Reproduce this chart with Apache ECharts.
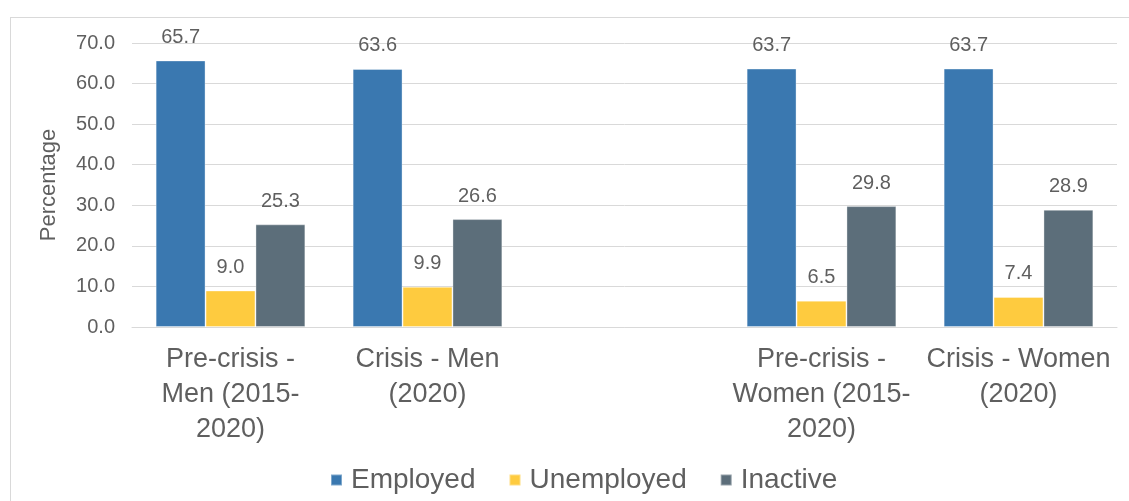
<!DOCTYPE html>
<html>
<head>
<meta charset="utf-8">
<script src="https://cdn.jsdelivr.net/npm/echarts@6/dist/echarts.min.js"></script>
<style>
  html, body { margin: 0; padding: 0; background: #ffffff; }
  #chart { width: 1129px; height: 501px; position: absolute; left: 0; top: 0; }
  #frame { position: absolute; left: 10px; top: 17px; width: 1300px; height: 700px;
           border: 1px solid #d9d9d9; box-sizing: border-box; pointer-events: none; }
</style>
</head>
<body>
<div id="frame"></div>
<div id="chart"></div>
<script>
const categories = [
  'Pre-crisis -\nMen (2015-\n2020)',
  'Crisis - Men\n(2020)',
  '',
  'Pre-crisis -\nWomen (2015-\n2020)',
  'Crisis - Women\n(2020)'
];
const seriesNames = ['Employed', 'Unemployed', 'Inactive'];
const employed   = [65.7, 63.6, null, 63.7, 63.7];
const unemployed = [9.0, 9.9, null, 6.5, 7.4];
const inactive   = [25.3, 26.6, null, 29.8, 28.9];
const yTicks = { min: 0, max: 70, interval: 10 };
const colors = ['#3a78b0', '#fecb3f', '#5c6e7a'];

const font = 'Liberation Sans, Arial, Helvetica, sans-serif';
const labelColor = '#5f5f5f';

function makeSeries(name, data, color) {
  return {
    name: name,
    type: 'bar',
    data: data,
    barGap: '0%',
    barCategoryGap: '24%',
    itemStyle: { color: color, borderColor: 'rgba(255,255,255,0.35)', borderWidth: 1 },
    label: {
      show: true,
      position: 'top',
      distance: 13,
      color: labelColor,
      fontFamily: font,
      fontSize: 20,
      formatter: p => (p.value == null ? '' : Number(p.value).toFixed(1))
    }
  };
}

const chart = echarts.init(document.getElementById('chart'), null, { renderer: 'canvas' });
chart.setOption({
  animation: false,
  backgroundColor: 'transparent',
  color: colors,
  grid: { left: 132, right: 12, top: 43, bottom: 174, containLabel: false },
  legend: {
    data: seriesNames,
    left: 325,
    top: 461,
    icon: 'rect',
    itemWidth: 11,
    itemHeight: 11,
    itemGap: 33,
    textStyle: { color: labelColor, fontFamily: font, fontSize: 28, padding: [0, 0, 0, 4] }
  },
  xAxis: {
    type: 'category',
    data: categories,
    axisLine: { show: true, lineStyle: { color: '#d9d9d9', width: 1 } },
    axisTick: { show: false },
    axisLabel: {
      interval: 0,
      margin: 15,
      color: labelColor,
      fontFamily: font,
      fontSize: 27,
      lineHeight: 35
    }
  },
  yAxis: {
    type: 'value',
    min: yTicks.min,
    max: yTicks.max,
    interval: yTicks.interval,
    name: 'Percentage',
    nameLocation: 'middle',
    nameGap: 72,
    nameRotate: 90,
    nameTextStyle: { color: labelColor, fontFamily: font, fontSize: 22 },
    axisLine: { show: false },
    axisTick: { show: false },
    splitLine: { lineStyle: { color: '#d9d9d9', width: 1 } },
    axisLabel: {
      margin: 17,
      color: labelColor,
      fontFamily: font,
      fontSize: 20,
      formatter: v => Number(v).toFixed(1)
    }
  },
  series: [
    makeSeries(seriesNames[0], employed, colors[0]),
    makeSeries(seriesNames[1], unemployed, colors[1]),
    makeSeries(seriesNames[2], inactive, colors[2])
  ]
});
</script>
</body>
</html>
